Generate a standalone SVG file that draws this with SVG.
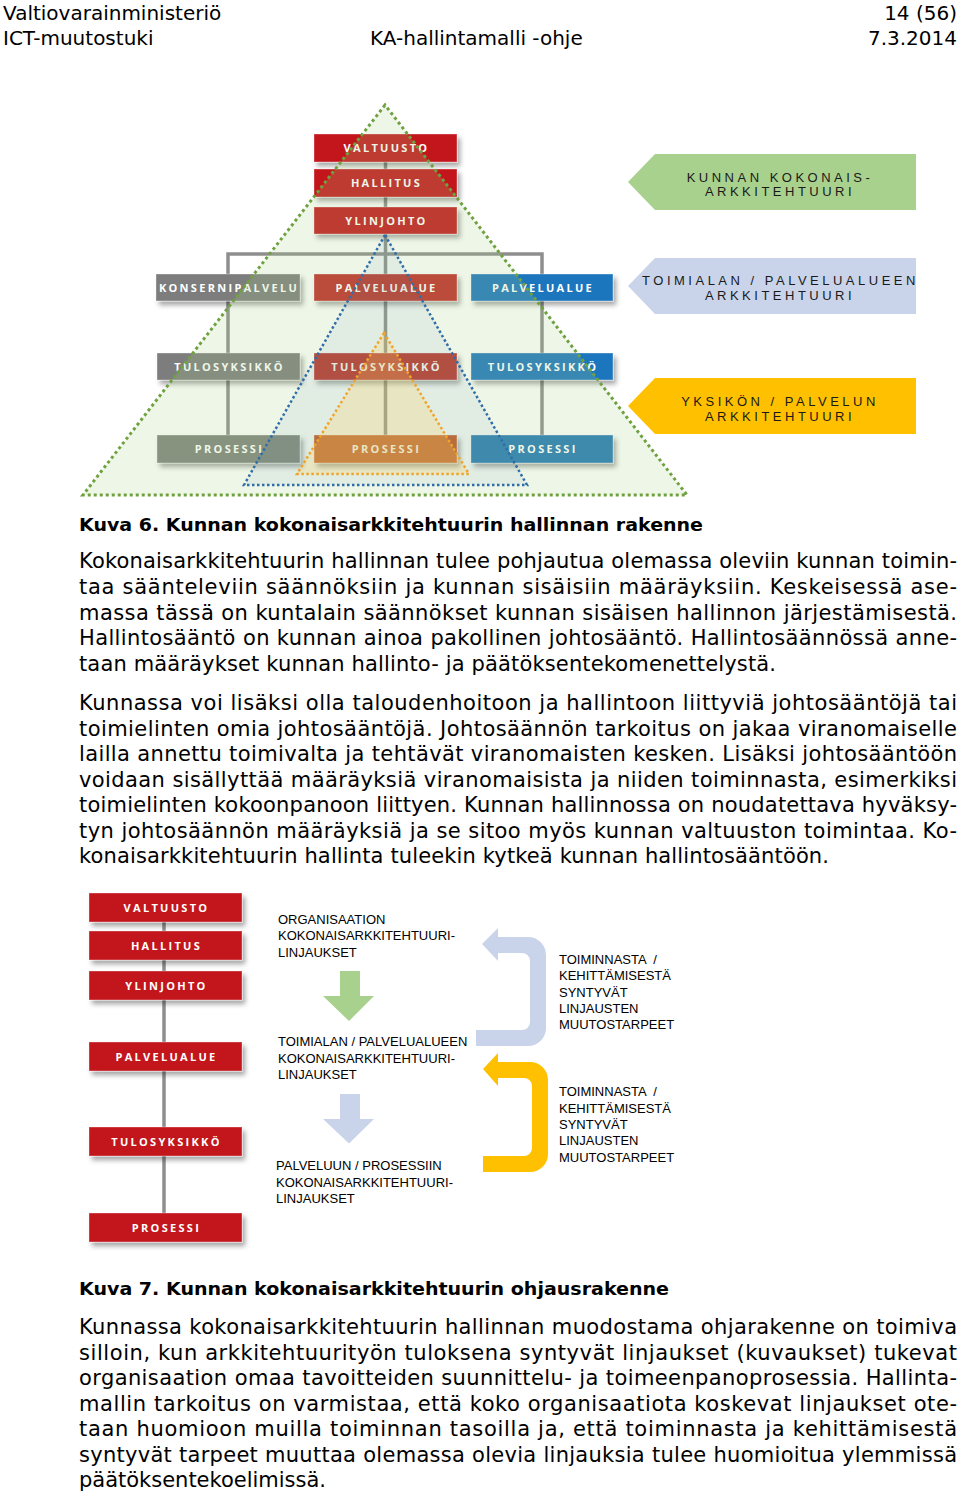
<svg xmlns="http://www.w3.org/2000/svg" width="960" height="1493" viewBox="0 0 960 1493">
<style>
.hdr{font-family:"DejaVu Sans",Verdana,sans-serif;font-size:20px;fill:#000}
.body{font-family:"DejaVu Sans",Verdana,sans-serif;font-size:21px;fill:#000}
.cap{font-family:"DejaVu Sans",Verdana,sans-serif;font-size:18px;font-weight:bold;fill:#000}
.bl{font-family:"Open Sans","Liberation Sans",sans-serif;font-size:11px;font-weight:700;fill:#fff;letter-spacing:2.3px;text-anchor:middle}
.pl{font-family:"Liberation Sans",Arial,sans-serif;font-size:13px;fill:#1a1a1a;letter-spacing:3.5px;text-anchor:middle}
.fl{font-family:"Liberation Sans",Arial,sans-serif;font-size:13px;fill:#000}
.conn{stroke:#8e8e8e;stroke-width:3.5;fill:none}
.box{stroke:rgba(255,255,255,0.35);stroke-width:1;filter:url(#sh)}
.red{fill:#c3161c}
.red2{fill:#c02a28}
.org{fill:#c9521f}
.gry{fill:#7d7d7d}
.blu{fill:#1f76bd}
</style>
<defs>
<filter id="sh" x="-10%" y="-30%" width="130%" height="190%">
<feDropShadow dx="3" dy="4" stdDeviation="2.5" flood-color="#000" flood-opacity="0.35"/>
</filter>
</defs>

<g id="header">
<text class="hdr" x="3" y="19.5">Valtiovarainministeriö</text>
<text class="hdr" x="957" y="19.5" text-anchor="end">14 (56)</text>
<text class="hdr" x="3" y="45">ICT-muutostuki</text>
<text class="hdr" x="370" y="45">KA-hallintamalli -ohje</text>
<text class="hdr" x="957" y="45" text-anchor="end">7.3.2014</text>
</g>

<!-- Figure 6 -->
<g id="fig6-connectors">
<line class="conn" x1="385.5" y1="140" x2="385.5" y2="449"/>
<polyline class="conn" points="228,449 228,254 542,254 542,449"/>
</g>
<g id="n-valtuusto"><rect class="box red" x="314" y="134" width="143" height="28"/><text class="bl" x="386.5" y="152">VALTUUSTO</text></g>
<g id="n-hallitus"><rect class="box red" x="314" y="169" width="143" height="28"/><text class="bl" x="386.5" y="187">HALLITUS</text></g>
<g id="n-ylinjohto"><rect class="box red" x="314" y="207" width="143" height="27"/><text class="bl" x="386.5" y="224.5">YLINJOHTO</text></g>
<g id="n-konsernipalvelu"><rect class="box gry" x="156" y="274" width="144" height="27"/><text class="bl" x="229" y="291.5">KONSERNIPALVELU</text></g>
<g id="n-palvelualue-red"><rect class="box red2" x="314" y="274" width="143" height="27"/><text class="bl" x="386.5" y="291.5">PALVELUALUE</text></g>
<g id="n-palvelualue-blue"><rect class="box blu" x="471" y="274" width="142" height="27"/><text class="bl" x="543" y="291.5">PALVELUALUE</text></g>
<g id="n-tulosyksikko-gray"><rect class="box gry" x="157" y="353" width="143" height="27"/><text class="bl" x="229.5" y="370.5">TULOSYKSIKKÖ</text></g>
<g id="n-tulosyksikko-red"><rect class="box red2" x="314" y="353" width="143" height="27"/><text class="bl" x="386.5" y="370.5">TULOSYKSIKKÖ</text></g>
<g id="n-tulosyksikko-blue"><rect class="box blu" x="471" y="353" width="142" height="27"/><text class="bl" x="543" y="370.5">TULOSYKSIKKÖ</text></g>
<g id="n-prosessi-gray"><rect class="box" fill="#7f837b" x="157" y="435" width="143" height="28"/><text class="bl" x="229.5" y="453">PROSESSI</text></g>
<g id="n-prosessi-orange"><rect class="box org" x="314" y="435" width="143" height="28"/><text class="bl" x="386.5" y="453">PROSESSI</text></g>
<g id="n-prosessi-blue"><rect class="box" fill="#2378b5" x="471" y="435" width="142" height="28"/><text class="bl" x="543" y="453">PROSESSI</text></g>

<g id="scopes">
<polygon points="385,105 83,495 687,495" fill="#a8d08d" fill-opacity="0.2" stroke="#6fa23f" stroke-width="3" stroke-dasharray="3 3"/>
<polygon points="385,235 244,485 527,485" fill="#4a7fb0" fill-opacity="0.08" stroke="#2f6ea8" stroke-width="2.5" stroke-dasharray="2.5 2.5"/>
<polygon points="384,333 297,474 469,474" fill="#ffd15a" fill-opacity="0.24" stroke="#f0a42a" stroke-width="2.5" stroke-dasharray="2.5 2.5"/>
</g>

<g id="n-kunnan-ka">
<polygon points="628,182 655,154 916,154 916,210 655,210" fill="#a9d18e"/>
<text class="pl" x="780" y="181.5">KUNNAN KOKONAIS-</text>
<text class="pl" x="780" y="196">ARKKITEHTUURI</text>
</g>
<g id="n-toimiala-ka">
<polygon points="628,286 655,258 916,258 916,314 655,314" fill="#c9d4ea"/>
<text class="pl" x="780.5" y="285">TOIMIALAN / PALVELUALUEEN</text>
<text class="pl" x="780" y="300">ARKKITEHTUURI</text>
</g>
<g id="n-yksikko-ka">
<polygon points="628,406 655,378 916,378 916,434 655,434" fill="#ffc000"/>
<text class="pl" x="780" y="405.5">YKSIKÖN / PALVELUN</text>
<text class="pl" x="780" y="420.5">ARKKITEHTUURI</text>
</g>

<text class="cap" x="79" y="530.5" textLength="624" lengthAdjust="spacingAndGlyphs">Kuva 6. Kunnan kokonaisarkkitehtuurin hallinnan rakenne</text>

<g id="para1" class="body">
<text x="79" y="568" textLength="878" lengthAdjust="spacing">Kokonaisarkkitehtuurin hallinnan tulee pohjautua olemassa oleviin kunnan toimin-</text>
<text x="79" y="594" textLength="878" lengthAdjust="spacing">taa säänteleviin säännöksiin ja kunnan sisäisiin määräyksiin. Keskeisessä ase-</text>
<text x="79" y="619.5" textLength="878" lengthAdjust="spacing">massa tässä on kuntalain säännökset kunnan sisäisen hallinnon järjestämisestä.</text>
<text x="79" y="645" textLength="878" lengthAdjust="spacing">Hallintosääntö on kunnan ainoa pakollinen johtosääntö. Hallintosäännössä anne-</text>
<text x="79" y="671" textLength="697" lengthAdjust="spacing">taan määräykset kunnan hallinto- ja päätöksentekomenettelystä.</text>
</g>
<g id="para2" class="body">
<text x="79" y="710" textLength="878" lengthAdjust="spacing">Kunnassa voi lisäksi olla taloudenhoitoon ja hallintoon liittyviä johtosääntöjä tai</text>
<text x="79" y="735.5" textLength="878" lengthAdjust="spacing">toimielinten omia johtosääntöjä. Johtosäännön tarkoitus on jakaa viranomaiselle</text>
<text x="79" y="761" textLength="878" lengthAdjust="spacing">lailla annettu toimivalta ja tehtävät viranomaisten kesken. Lisäksi johtosääntöön</text>
<text x="79" y="786.5" textLength="878" lengthAdjust="spacing">voidaan sisällyttää määräyksiä viranomaisista ja niiden toiminnasta, esimerkiksi</text>
<text x="79" y="812" textLength="878" lengthAdjust="spacing">toimielinten kokoonpanoon liittyen. Kunnan hallinnossa on noudatettava hyväksy-</text>
<text x="79" y="838" textLength="878" lengthAdjust="spacing">tyn johtosäännön määräyksiä ja se sitoo myös kunnan valtuuston toimintaa. Ko-</text>
<text x="79" y="863" textLength="750" lengthAdjust="spacing">konaisarkkitehtuurin hallinta tuleekin kytkeä kunnan hallintosääntöön.</text>
</g>

<!-- Figure 7 -->
<g id="fig7-connectors">
<line class="conn" x1="164" y1="900" x2="164" y2="1230" stroke="#9a9a9a"/>
</g>
<g id="f7-valtuusto"><rect class="box red" x="89" y="893" width="153" height="29"/><text class="bl" x="166.5" y="911.5">VALTUUSTO</text></g>
<g id="f7-hallitus"><rect class="box red" x="89" y="931" width="153" height="29"/><text class="bl" x="166.5" y="949.5">HALLITUS</text></g>
<g id="f7-ylinjohto"><rect class="box red" x="89" y="971" width="153" height="29"/><text class="bl" x="166.5" y="989.5">YLINJOHTO</text></g>
<g id="f7-palvelualue"><rect class="box red" x="89" y="1042" width="153" height="29"/><text class="bl" x="166.5" y="1060.5">PALVELUALUE</text></g>
<g id="f7-tulosyksikko"><rect class="box red" x="89" y="1127" width="153" height="29"/><text class="bl" x="166.5" y="1145.5">TULOSYKSIKKÖ</text></g>
<g id="f7-prosessi"><rect class="box red" x="89" y="1213" width="153" height="29"/><text class="bl" x="166.5" y="1231.5">PROSESSI</text></g>

<g id="f7-org">
<text class="fl" x="278" y="924">ORGANISAATION</text>
<text class="fl" x="278" y="940.3">KOKONAISARKKITEHTUURI-</text>
<text class="fl" x="278" y="956.6">LINJAUKSET</text>
</g>
<g id="f7-toimiala">
<text class="fl" x="278" y="1046.3">TOIMIALAN / PALVELUALUEEN</text>
<text class="fl" x="278" y="1062.6">KOKONAISARKKITEHTUURI-</text>
<text class="fl" x="278" y="1078.9">LINJAUKSET</text>
</g>
<g id="f7-palvelu">
<text class="fl" x="276" y="1170.3">PALVELUUN / PROSESSIIN</text>
<text class="fl" x="276" y="1186.6">KOKONAISARKKITEHTUURI-</text>
<text class="fl" x="276" y="1202.9">LINJAUKSET</text>
</g>
<g id="f7-arrows">
<polygon points="340,971 360,971 360,996 374,996 349,1021 323,996 340,996" fill="#a9d18e"/>
<polygon points="340,1094 360,1094 360,1119 374,1119 349,1143.5 323,1119 340,1119" fill="#c9d4ea"/>
<path d="M482,944 L498,928 L498,937 L528,937 A18,18 0 0 1 546,955 L546,1028 A18,18 0 0 1 528,1046 L476,1046 L476,1030 L522,1030 A8,8 0 0 0 530,1022 L530,961 A8,8 0 0 0 522,953 L498,953 L498,961 Z" fill="#c9d4ea"/>
<path d="M483,1069 L498,1053 L498,1062 L530,1062 A18,18 0 0 1 548,1080 L548,1154 A18,18 0 0 1 530,1172 L483,1172 L483,1156 L524,1156 A8,8 0 0 0 532,1148 L532,1086 A8,8 0 0 0 524,1078 L498,1078 L498,1086 Z" fill="#ffc000"/>
</g>
<g id="f7-feedback1">
<text class="fl" x="559" y="964">TOIMINNASTA &#160;/</text>
<text class="fl" x="559" y="980.3">KEHITTÄMISESTÄ</text>
<text class="fl" x="559" y="996.6">SYNTYVÄT</text>
<text class="fl" x="559" y="1012.9">LINJAUSTEN</text>
<text class="fl" x="559" y="1029.2">MUUTOSTARPEET</text>
</g>
<g id="f7-feedback2">
<text class="fl" x="559" y="1096.3">TOIMINNASTA &#160;/</text>
<text class="fl" x="559" y="1112.6">KEHITTÄMISESTÄ</text>
<text class="fl" x="559" y="1128.9">SYNTYVÄT</text>
<text class="fl" x="559" y="1145.2">LINJAUSTEN</text>
<text class="fl" x="559" y="1161.5">MUUTOSTARPEET</text>
</g>

<text class="cap" x="79" y="1294.5" textLength="590" lengthAdjust="spacingAndGlyphs">Kuva 7. Kunnan kokonaisarkkitehtuurin ohjausrakenne</text>

<g id="para3" class="body">
<text x="79" y="1334" textLength="878" lengthAdjust="spacing">Kunnassa kokonaisarkkitehtuurin hallinnan muodostama ohjarakenne on toimiva</text>
<text x="79" y="1359.5" textLength="878" lengthAdjust="spacing">silloin, kun arkkitehtuurityön tuloksena syntyvät linjaukset (kuvaukset) tukevat</text>
<text x="79" y="1385" textLength="878" lengthAdjust="spacing">organisaation omaa tavoitteiden suunnittelu- ja toimeenpanoprosessia. Hallinta-</text>
<text x="79" y="1410.5" textLength="878" lengthAdjust="spacing">mallin tarkoitus on varmistaa, että koko organisaatiota koskevat linjaukset ote-</text>
<text x="79" y="1436" textLength="878" lengthAdjust="spacing">taan huomioon muilla toiminnan tasoilla ja, että toiminnasta ja kehittämisestä</text>
<text x="79" y="1462" textLength="878" lengthAdjust="spacing">syntyvät tarpeet muuttaa olemassa olevia linjauksia tulee huomioitua ylemmissä</text>
<text x="79" y="1487" textLength="247" lengthAdjust="spacing">päätöksentekoelimissä.</text>
</g>
</svg>
